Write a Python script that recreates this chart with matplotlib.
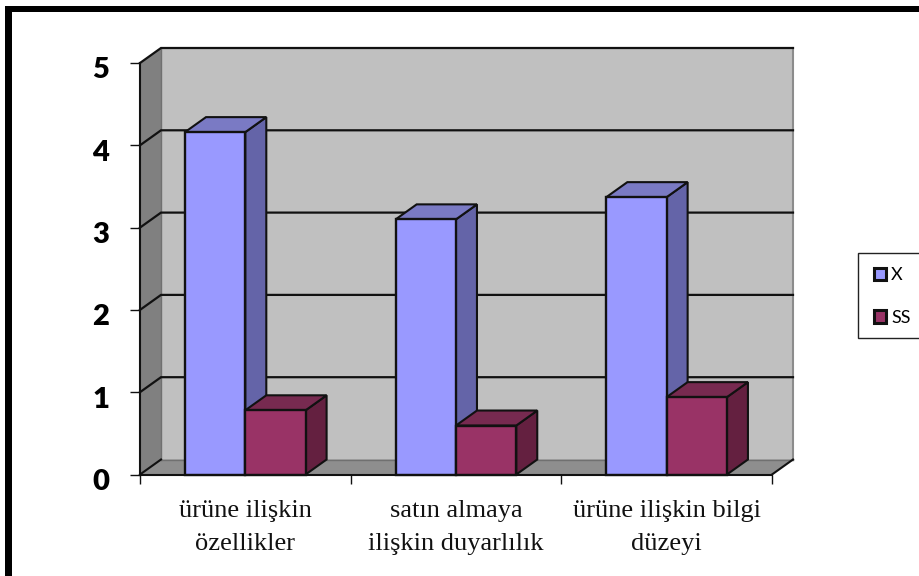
import numpy as np
import matplotlib
matplotlib.use('Agg')
import matplotlib.pyplot as plt
from matplotlib.patches import Patch, Rectangle
from matplotlib.transforms import ScaledTranslation

categories = ['ürüne ilişkin\nözellikler', 'satın almaya\nilişkin duyarlılık', 'ürüne ilişkin bilgi\ndüzeyi']
x_values = [4.16, 3.10, 3.37]
ss_values = [0.78, 0.595, 0.94]
y_ticks = [0, 1, 2, 3, 4, 5]

W, H = 920, 576
# 3d look: depth of the box in data units
DX = 21 / 210.67
DY = 15 / 82.3
BAR_W = 60.3 / 210.67
BAR_START = 45 / 210.67

fig = plt.figure(figsize=(W / 100, H / 100), dpi=100)
ax = fig.add_axes([140 / W, 1 - 474.5 / H, 632 / W, 411.5 / H])
ax.set_xlim(0, 3)
ax.set_ylim(0, 5)
ax.set_zorder(2)


def poly(xs, ys, color, edge='none', lw=0, z=1):
    ax.fill(xs, ys, facecolor=color, edgecolor=edge, linewidth=lw,
            clip_on=False, zorder=z, joinstyle='miter')


# walls and floor
poly([DX, 3 + DX, 3 + DX, DX], [DY, DY, 5 + DY, 5 + DY], '#c0c0c0', z=1)
poly([0, DX, DX, 0], [0, DY, 5 + DY, 5], '#808080', z=1)
poly([0, 3, 3 + DX, DX], [0, 0, DY, DY], '#8e8e8e', z=1)
ax.plot([3 + DX, 3 + DX], [DY, 5 + DY], color='#8c8c8c', lw=1.5, clip_on=False, zorder=1.2)
ax.plot([DX, DX], [DY, 5 + DY], color='#707070', lw=1, clip_on=False, zorder=1.2)
ax.plot([DX, 3 + DX], [DY, DY], color='#707070', lw=1, clip_on=False, zorder=1.2)

# gridlines run up the side wall and along the back
for t in y_ticks[1:]:
    ax.plot([0, DX, 3 + DX], [t, t + DY, t + DY], color='#111111', lw=1.6,
            clip_on=False, zorder=1.5, solid_joinstyle='miter')
ax.plot([0, DX], [0, DY], color='#111111', lw=1.5, clip_on=False, zorder=1.5)
ax.plot([3, 3 + DX], [0, DY], color='#111111', lw=1.5, clip_on=False, zorder=1.5)


def box(x0, val, front, top, side, z):
    x1 = x0 + BAR_W
    poly([x0 + BAR_W, x1 + DX, x1 + DX, x1], [0, DY, val + DY, val], side, '#111111', 1.5, z)
    poly([x0, x1, x1 + DX, x0 + DX], [val, val, val + DY, val + DY], top, '#111111', 1.5, z)
    ax.add_patch(Rectangle((x0, 0), BAR_W, val, facecolor=front, edgecolor='#111111',
                           linewidth=1.7, clip_on=False, zorder=z + 0.1))


for i in range(len(categories)):
    start = i + BAR_START
    box(start, x_values[i], '#9999ff', '#7a7ac4', '#6464a8', 3 + i)
    box(start + BAR_W, ss_values[i], '#993366', '#772a50', '#642040', 3.5 + i)

for name in ['top', 'right']:
    ax.spines[name].set_visible(False)
for name in ['left', 'bottom']:
    ax.spines[name].set_linewidth(1.5)
    ax.spines[name].set_color('#111111')
    ax.spines[name].set_zorder(10)

ax.set_yticks(y_ticks)
ax.set_yticklabels([str(t) for t in y_ticks], fontfamily='Lato', fontweight='heavy', fontsize=21)
ax.tick_params(axis='y', length=7.2, width=1, pad=15, color='#111111')
# digits sit a little below their tick in the source
shift = ScaledTranslation(0, -5 / 100, fig.dpi_scale_trans)
for label in ax.get_yticklabels():
    label.set_transform(label.get_transform() + shift)

ax.set_xticks(range(4))
ax.set_xticklabels([])
ax.tick_params(axis='x', which='major', length=6.5, width=1, color='#111111')
ax.set_xticks([i + 0.5 for i in range(len(categories))], minor=True)
ax.set_xticklabels(categories, minor=True, fontfamily='Liberation Serif', fontsize=19,
                   linespacing=1.63, color='#111111')
ax.tick_params(axis='x', which='minor', length=0, pad=18.5)

# legend box runs off the right edge of the picture
fig.add_artist(Rectangle((858.5 / W, 1 - 337.5 / H), 70 / W, 84 / H, transform=fig.transFigure,
                         facecolor='white', edgecolor='#222222', linewidth=1))
handles = [Patch(facecolor='#9999ff', edgecolor='#111111', linewidth=2.2, label='X'),
           Patch(facecolor='#993366', edgecolor='#111111', linewidth=2.2, label='SS')]
leg = fig.legend(handles=handles, loc='center left', bbox_to_anchor=(874 / W, 1 - 296.5 / H),
                 frameon=False, borderpad=0, borderaxespad=0, handlelength=0.65, handleheight=0.65,
                 handletextpad=0.3, labelspacing=1.48,
                 prop={'family': 'Lato', 'size': 13})

# thick frame of the source picture, only top and left
fig.add_artist(Rectangle((5 / W, 1 - 12 / H), 1 - 5 / W, 6 / H, transform=fig.transFigure,
                         facecolor='black', edgecolor='none'))
fig.add_artist(Rectangle((5 / W, 0), 7 / W, 1 - 6 / H, transform=fig.transFigure,
                         facecolor='black', edgecolor='none'))

fig.savefig('out.png', dpi=100)
